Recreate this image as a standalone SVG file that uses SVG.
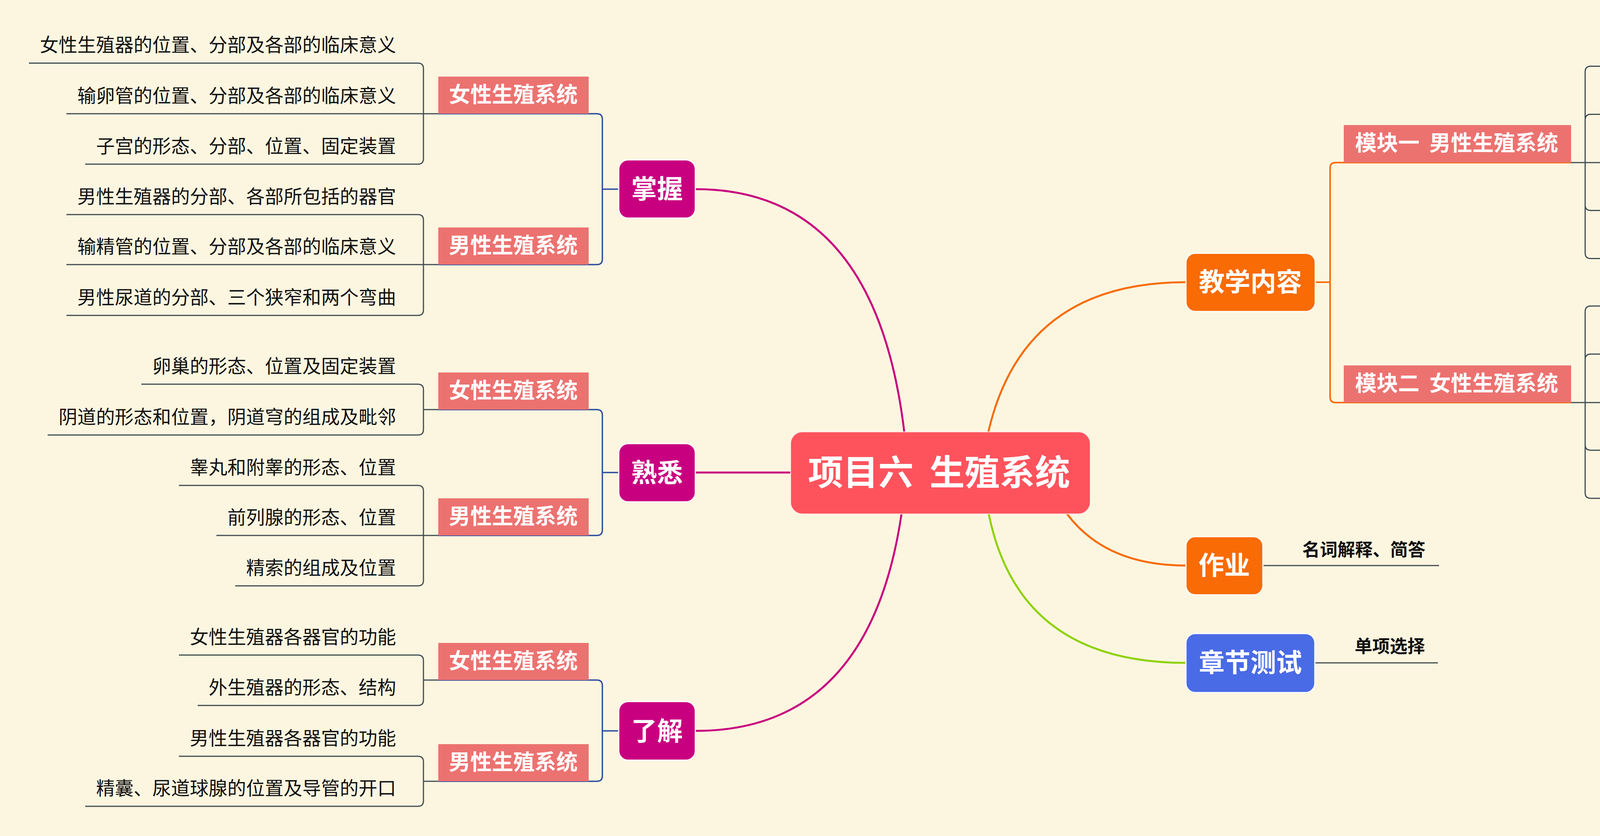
<svg xmlns="http://www.w3.org/2000/svg" width="5218" height="2139" viewBox="0 0 5218 2139">
<style>
text{font-family:"Noto Sans CJK SC","Noto Sans",sans-serif}
.ll{font-size:48px;fill:#111;text-anchor:end}
.lr{font-size:45px;font-weight:700;fill:#111}
.cat{font-size:55px;font-weight:700;fill:#fff;text-anchor:middle}
.main{font-size:66px;font-weight:700;fill:#fff;text-anchor:middle}
.ctr{font-size:90px;font-weight:700;fill:#fff;text-anchor:middle}
.leaf{fill:none;stroke:#424C53;stroke-width:3}
.blue{fill:none;stroke:#2F4E9E;stroke-width:3.5}
.mag{fill:none;stroke:#C8007F;stroke-width:5}
.org{fill:none;stroke:#F86B05;stroke-width:5}
.grn{fill:none;stroke:#8ED100;stroke-width:5}
.catbox{fill:#EC7270}
.mbox{stroke:#fff;stroke-width:3}
</style>
<rect width="5218" height="2139" fill="#FCF6E0"/>
<g id="connectors">
<path class="mag" d="M1781,484 Q2241,484 2315,1106"/>
<path class="mag" d="M1781,1209 H2026"/>
<path class="mag" d="M2308,1314 Q2226,1870 1781,1870"/>
<path class="org" d="M2530,1106 Q2618,722 3036,722"/>
<path class="org" d="M2731,1314 Q2830,1447 3036,1447"/>
<path class="grn" d="M2531,1314 Q2607,1696 3036,1696"/>
<path class="blue" d="M1122,291 H1528 Q1542,291 1542,305 V663 Q1542,677 1528,677 H1122 M1542,484 H1584"/>
<path class="blue" d="M1122,1048 H1528 Q1542,1048 1542,1062 V1356 Q1542,1370 1528,1370 H1122 M1542,1209 H1584"/>
<path class="blue" d="M1122,1740 H1528 Q1542,1740 1542,1754 V1985 Q1542,1999 1528,1999 H1122 M1542,1870 H1584"/>
<path class="leaf" d="M1122,291 H170 M1084,291 V175.5 Q1084,161.5 1070,161.5 H74 M1084,291 V406 Q1084,420 1070,420 H218"/>
<path class="leaf" d="M1122,677 H170 M1084,677 V563 Q1084,549 1070,549 H170 M1084,677 V793 Q1084,807 1070,807 H170"/>
<path class="leaf" d="M1122,1048 H1084 V997 Q1084,983 1070,983 H362 M1084,1048 V1099 Q1084,1113 1070,1113 H122"/>
<path class="leaf" d="M1122,1370 H554 M1084,1370 V1256 Q1084,1242 1070,1242 H458 M1084,1370 V1485 Q1084,1499 1070,1499 H602"/>
<path class="leaf" d="M1122,1740 H1084 V1690 Q1084,1676 1070,1676 H458 M1084,1740 V1791 Q1084,1805 1070,1805 H506"/>
<path class="leaf" d="M1122,1999 H1084 V1949 Q1084,1935 1070,1935 H458 M1084,1999 V2049 Q1084,2063 1070,2063 H218"/>
<path class="org" style="stroke-width:4" d="M3367,722 H3405 M4022,416 H3419 Q3405,416 3405,430 V1016 Q3405,1030 3419,1030 H4022"/>
<path class="leaf" d="M4022,416 H4694 M4058,416 V183.5 Q4058,169.5 4072,169.5 H4461 M4058,416 V306.5 Q4058,292.5 4072,292.5 H4470 M4058,416 V524.5 Q4058,538.5 4072,538.5 H4797 M4058,416 V647.5 Q4058,661.5 4072,661.5 H4694"/>
<path class="leaf" d="M4022,1030 H5145 M4058,1030 V797 Q4058,783 4072,783 H4462 M4058,1030 V920 Q4058,906 4072,906 H4470 M4058,1030 V1138 Q4058,1152 4072,1152 H4873 M4058,1030 V1261 Q4058,1275 4072,1275 H4788"/>
<path class="leaf" d="M3233,1447 H3684"/>
<path class="leaf" d="M3366,1696 H3681"/>
</g>
<g id="center">
<rect x="2024" y="1105" width="767" height="210" rx="30" fill="#FE535D" stroke="#FFE6E6" stroke-width="2"/>
<text class="ctr" x="2404" y="1241" xml:space="preserve">项目六  生殖系统</text>
</g>
<g id="zhangwo"><rect class="mbox" x="1584" y="409" width="196" height="149" rx="24" fill="#C8007F"/><text class="main" x="1682" y="507">掌握</text></g>
<g id="shuxi"><rect class="mbox" x="1584" y="1135" width="196" height="149" rx="24" fill="#C8007F"/><text class="main" x="1682" y="1233">熟悉</text></g>
<g id="liaojie"><rect class="mbox" x="1584" y="1795" width="196" height="150" rx="24" fill="#C8007F"/><text class="main" x="1682" y="1894">了解</text></g>
<g id="jiaoxue"><rect class="mbox" x="3036" y="648" width="331" height="149" rx="24" fill="#F86B05"/><text class="main" x="3201" y="745">教学内容</text></g>
<g id="zuoye"><rect class="mbox" x="3036" y="1373" width="197" height="149" rx="24" fill="#F86B05"/><text class="main" x="3134" y="1470">作业</text></g>
<g id="ceshi"><rect class="mbox" x="3036" y="1621" width="330" height="151" rx="24" fill="#4A6BE6"/><text class="main" x="3201" y="1719">章节测试</text></g>
<g id="cat1"><rect class="catbox" x="1122" y="196" width="385" height="95"/><text class="cat" x="1314" y="261">女性生殖系统</text></g>
<g id="cat2"><rect class="catbox" x="1122" y="582" width="385" height="95"/><text class="cat" x="1314" y="647">男性生殖系统</text></g>
<g id="cat3"><rect class="catbox" x="1122" y="953" width="385" height="95"/><text class="cat" x="1314" y="1018">女性生殖系统</text></g>
<g id="cat4"><rect class="catbox" x="1122" y="1275" width="385" height="95"/><text class="cat" x="1314" y="1340">男性生殖系统</text></g>
<g id="cat5"><rect class="catbox" x="1122" y="1645" width="385" height="95"/><text class="cat" x="1314" y="1710">女性生殖系统</text></g>
<g id="cat6"><rect class="catbox" x="1122" y="1904" width="385" height="95"/><text class="cat" x="1314" y="1969">男性生殖系统</text></g>
<g id="mod1"><rect class="catbox" x="3440" y="320" width="582" height="96"/><text class="cat" x="3729" y="385" xml:space="preserve">模块一  男性生殖系统</text></g>
<g id="mod2"><rect class="catbox" x="3440" y="935" width="582" height="95"/><text class="cat" x="3729" y="1000" xml:space="preserve">模块二  女性生殖系统</text></g>
<g id="leaf-left">
<text class="ll" x="1014" y="132">女性生殖器的位置、分部及各部的临床意义</text>
<text class="ll" x="1014" y="262">输卵管的位置、分部及各部的临床意义</text>
<text class="ll" x="1014" y="391">子宫的形态、分部、位置、固定装置</text>
<text class="ll" x="1014" y="520">男性生殖器的分部、各部所包括的器官</text>
<text class="ll" x="1014" y="648">输精管的位置、分部及各部的临床意义</text>
<text class="ll" x="1014" y="778">男性尿道的分部、三个狭窄和两个弯曲</text>
<text class="ll" x="1014" y="954">卵巢的形态、位置及固定装置</text>
<text class="ll" x="1014" y="1084">阴道的形态和位置，阴道穹的组成及毗邻</text>
<text class="ll" x="1014" y="1213">睾丸和附睾的形态、位置</text>
<text class="ll" x="1014" y="1341">前列腺的形态、位置</text>
<text class="ll" x="1014" y="1470">精索的组成及位置</text>
<text class="ll" x="1014" y="1647">女性生殖器各器官的功能</text>
<text class="ll" x="1014" y="1776">外生殖器的形态、结构</text>
<text class="ll" x="1014" y="1906">男性生殖器各器官的功能</text>
<text class="ll" x="1014" y="2034">精囊、尿道球腺的位置及导管的开口</text>
</g>
<g id="leaf-right">
<text class="lr" x="4121" y="143.5">文档资料：PPT</text>
<text class="lr" x="4121" y="266.5">视频：难点学习</text>
<text class="lr" x="4121" y="390">问题讨论：<tspan x="4481">肾结石排</tspan></text>
<text class="lr" x="4121" y="512.5">临床病例分析:<tspan x="4537">前列腺增生</tspan></text>
<text class="lr" x="4121" y="635.5">知识拓展<tspan x="4435">隐睾与不育</tspan></text>
<text class="lr" x="4121" y="757">文档资料：PPT</text>
<text class="lr" x="4121" y="880">视频：难点学习</text>
<text class="lr" x="4121" y="1004">问题讨论：<tspan x="4481">女性不孕原因（解剖结构层面）</tspan></text>
<text class="lr" x="4121" y="1126">临床病例分析<tspan x="4522">输卵管妊娠破裂</tspan></text>
<text class="lr" x="4121" y="1249">知识拓展<tspan x="4437">阴道穹后部穿刺</tspan></text>
<text class="lr" x="3334" y="1423">名词解释、简答</text>
<text class="lr" x="3468" y="1670">单项选择</text>
</g>
</svg>
